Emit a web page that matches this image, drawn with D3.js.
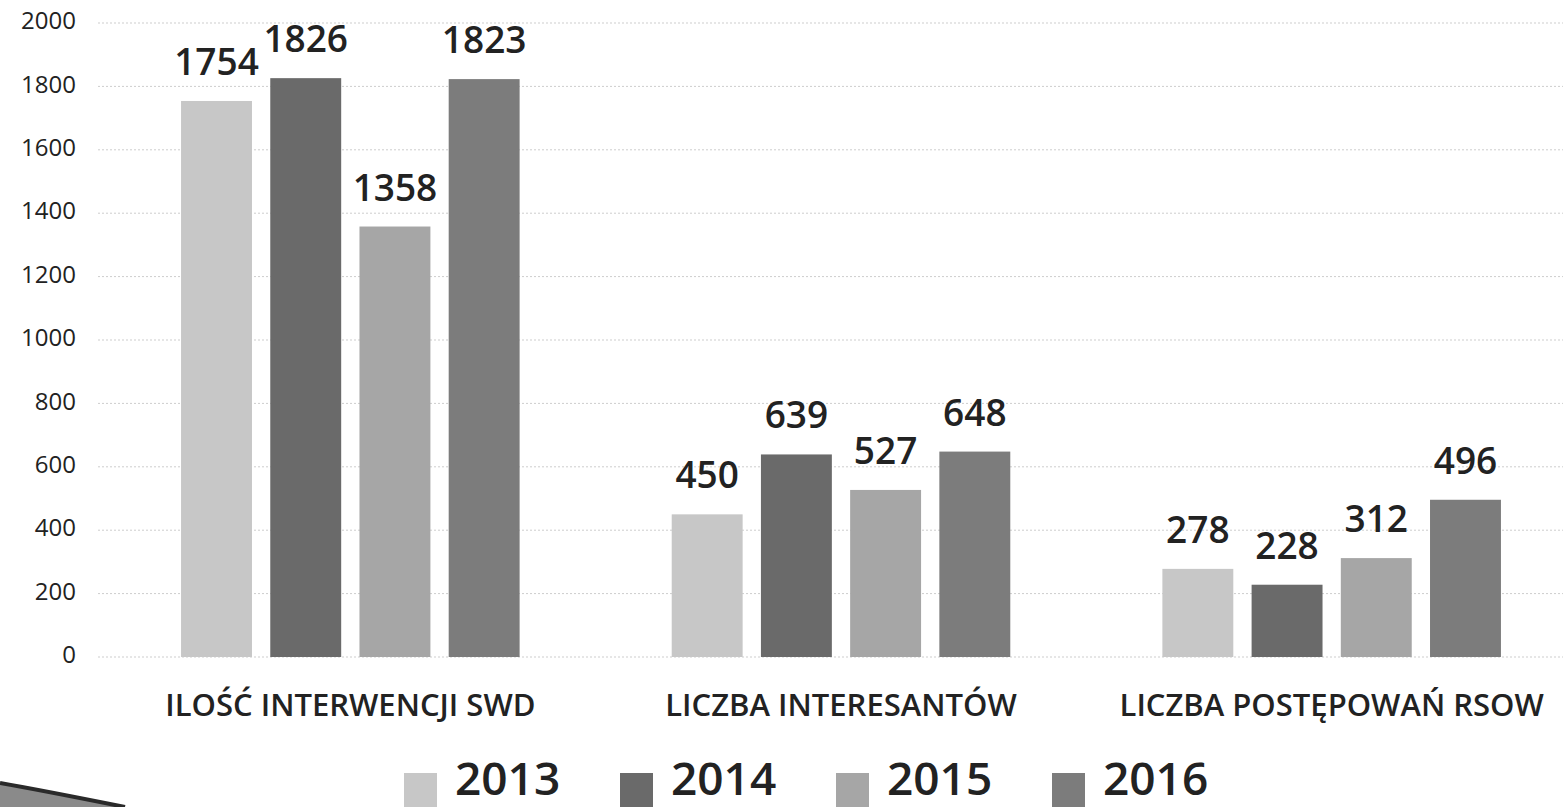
<!DOCTYPE html>
<html>
<head>
<meta charset="utf-8">
<script src="https://cdn.jsdelivr.net/npm/d3@7"></script>
<style>
  body { margin: 0; background: #fff; }
  svg { display: block; font-family: "Open Sans", sans-serif; }
</style>
</head>
<body>
<svg id="chart" width="1563" height="807"></svg>
<script>
var categories = ['ILOŚĆ INTERWENCJI SWD', 'LICZBA INTERESANTÓW', 'LICZBA POSTĘPOWAŃ RSOW'];
var years = ['2013', '2014', '2015', '2016'];
var values2013 = [1754, 450, 278];
var values2014 = [1826, 639, 228];
var values2015 = [1358, 527, 312];
var values2016 = [1823, 648, 496];
var yTicks = [0, 200, 400, 600, 800, 1000, 1200, 1400, 1600, 1800, 2000];

var series = [values2013, values2014, values2015, values2016];
var colors = ['#c7c7c7', '#6a6a6a', '#a6a6a6', '#7c7c7c'];

var svg = d3.select('#chart');

var yScale = d3.scaleLinear()
    .domain([0, 2000])
    .range([657, 23]);

var x0 = d3.scaleBand()
    .domain(categories)
    .range([105, 1577])
    .paddingInner(0.31)
    .paddingOuter(0.155);

var x1 = d3.scaleBand()
    .domain(years)
    .range([0, x0.bandwidth()])
    .paddingInner(0.205)
    .paddingOuter(0);

var color = d3.scaleOrdinal().domain(years).range(colors);

// grid lines
svg.append('g')
    .selectAll('line')
    .data(yTicks)
    .enter()
    .append('line')
    .attr('x1', 98)
    .attr('x2', 1563)
    .attr('y1', d => yScale(d))
    .attr('y2', d => yScale(d))
    .attr('stroke', '#cdcdcd')
    .attr('stroke-width', 1)
    .attr('stroke-dasharray', '2,2');

// y axis (labels only)
var yAxis = svg.append('g')
    .attr('transform', 'translate(76,0)')
    .call(d3.axisLeft(yScale).tickValues(yTicks).tickFormat(d3.format('d')).tickSize(0).tickPadding(0));
yAxis.select('.domain').remove();
yAxis.selectAll('text')
    .attr('font-family', '"Open Sans", sans-serif')
    .attr('font-size', 24)
    .attr('fill', '#222')
    .attr('dy', '0.32em')
    .attr('transform', 'translate(0,-2)');

// bars
var rows = [];
categories.forEach((c, ci) => {
    years.forEach((y, yi) => {
        rows.push({ cat: c, year: y, value: series[yi][ci] });
    });
});

svg.append('g')
    .selectAll('rect')
    .data(rows)
    .enter()
    .append('rect')
    .attr('x', d => x0(d.cat) + x1(d.year))
    .attr('y', d => yScale(d.value))
    .attr('width', x1.bandwidth())
    .attr('height', d => yScale(0) - yScale(d.value))
    .attr('fill', d => color(d.year));

// value labels
svg.append('g')
    .selectAll('text')
    .data(rows)
    .enter()
    .append('text')
    .attr('x', d => x0(d.cat) + x1(d.year) + x1.bandwidth() / 2)
    .attr('y', d => yScale(d.value) - 26)
    .attr('text-anchor', 'middle')
    .attr('font-size', 37)
    .attr('font-weight', 600)
    .attr('fill', '#222')
    .text(d => d.value);

// category labels
svg.append('g')
    .selectAll('text')
    .data(categories)
    .enter()
    .append('text')
    .attr('x', d => x0(d) + x0.bandwidth() / 2)
    .attr('y', 716)
    .attr('text-anchor', 'middle')
    .attr('font-size', 31)
    .attr('font-weight', 600)
    .attr('fill', '#222')
    .text(d => d);

// legend
var legendX = d3.scaleBand()
    .domain(years)
    .range([404, 1268]);

var legend = svg.append('g')
    .selectAll('g')
    .data(years)
    .enter()
    .append('g')
    .attr('transform', d => `translate(${legendX(d)},0)`);

legend.append('rect')
    .attr('x', 0)
    .attr('y', 773)
    .attr('width', 33)
    .attr('height', 34)
    .attr('fill', d => color(d));

legend.append('text')
    .attr('x', 51)
    .attr('y', 795)
    .attr('font-size', 46)
    .attr('font-weight', 600)
    .attr('fill', '#222')
    .text(d => d);

// scanned page edge in the bottom-left corner
var edge = svg.append('g');
edge.append('path')
    .attr('d', 'M0,783 C40,790 80,798 125,807 L0,807 Z')
    .attr('fill', '#8a8a8a');
edge.append('path')
    .attr('d', 'M0,783 C40,790 80,798 125,807')
    .attr('fill', 'none')
    .attr('stroke', '#2a2a2a')
    .attr('stroke-width', 4);
</script>
</body>
</html>
